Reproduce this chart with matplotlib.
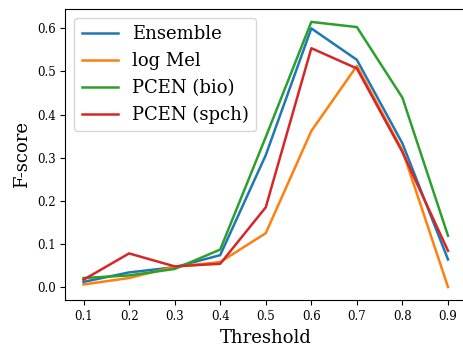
import numpy as np
import matplotlib
matplotlib.use("Agg")
import matplotlib.pyplot as plt

plt.rcParams['font.family'] = 'DejaVu Serif'

# Data
thresholds = [0.1, 0.2, 0.3, 0.4, 0.5, 0.6, 0.7, 0.8, 0.9]
ensemble = [0.012, 0.034, 0.046, 0.074, 0.306, 0.600, 0.527, 0.333, 0.064]
log_mel = [0.006, 0.021, 0.047, 0.058, 0.125, 0.362, 0.513, 0.317, 0.0]
pcen_bio = [0.021, 0.027, 0.042, 0.087, 0.348, 0.615, 0.603, 0.439, 0.119]
pcen_spch = [0.017, 0.078, 0.048, 0.054, 0.185, 0.554, 0.507, 0.313, 0.084]

series = [
    ("Ensemble", ensemble, "#1f77b4"),
    ("log Mel", log_mel, "#ff7f0e"),
    ("PCEN (bio)", pcen_bio, "#2ca02c"),
    ("PCEN (spch)", pcen_spch, "#d62728"),
]

fig = plt.figure(figsize=(4.63, 3.46), dpi=100)
# right edge of the axes sits just past the image edge, as in the reference
ax = fig.add_axes([0.141, 0.132, 0.866, 0.843])

for name, vals, color in series:
    ax.plot(thresholds, vals, color=color, lw=1.8, label=name)

ax.set_xticks(thresholds)
ax.set_xticklabels([f"{t:.1f}" for t in thresholds])
ax.set_yticks(np.arange(0, 0.61, 0.1))
ax.tick_params(labelsize=8.5)
ax.set_xlabel("Threshold", fontsize=13)
ax.set_ylabel("F-score", fontsize=13)
ax.legend(loc="upper left", fontsize=13, handlelength=2.0)

fig.savefig("out.png", dpi=100)
